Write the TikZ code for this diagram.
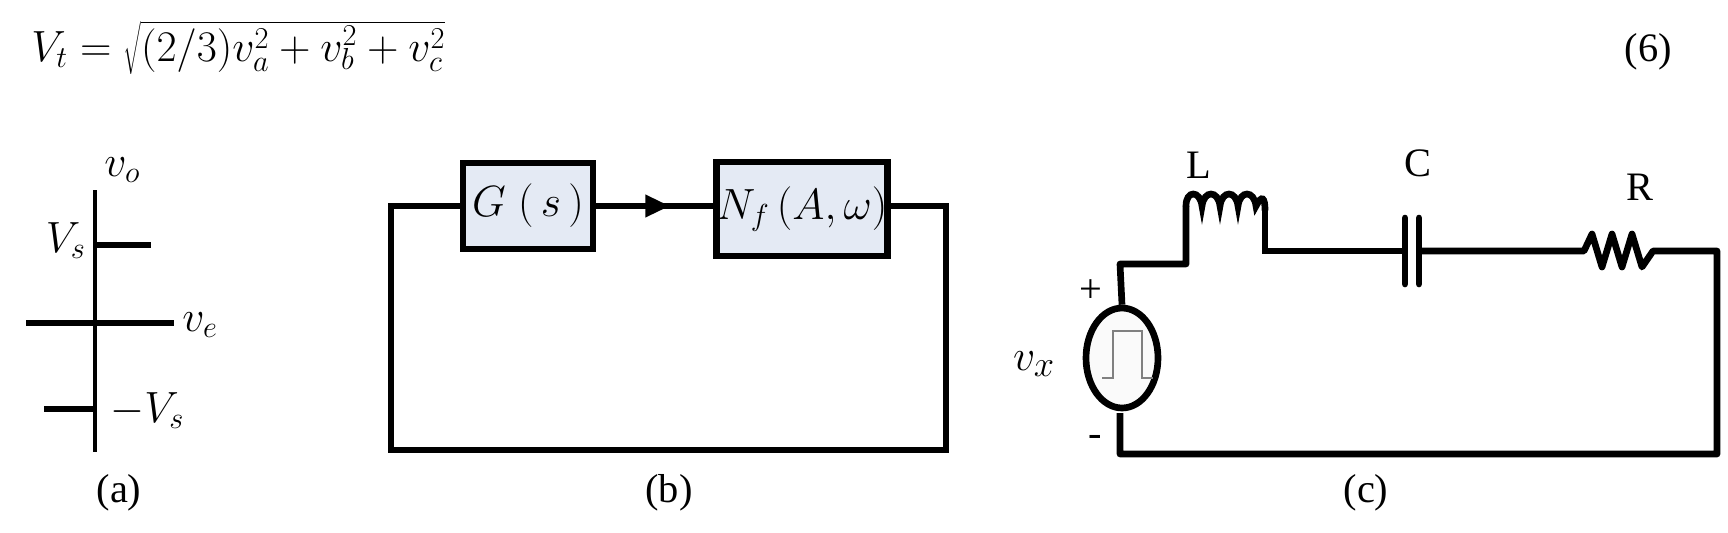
\documentclass[tikz,border=0pt]{standalone}
\usepackage{fontspec}
\setmainfont{Liberation Serif}
\usetikzlibrary{arrows.meta,shapes.geometric}
\definecolor{boxfill}{HTML}{E4EAF4}
\begin{document}
\begin{tikzpicture}[x=0.02cm,y=-0.02cm,
  w/.style={line width=3.8pt},
  thin/.style={line width=2.6pt},
  box/.style={draw,line width=3.8pt,fill=boxfill,inner sep=0pt},
  lab/.style={font=\fontsize{23}{27}\selectfont,inner sep=0pt},
  ]
\useasboundingbox (0,0) rectangle (1728,532);
% equation
\node[font=\fontsize{27}{32}\selectfont,inner sep=0pt,anchor=base west] (eq) at (31,61) {$V_t=\sqrt{(2/3)v_a^2+v_b^2+v_c^2}$};
\node[lab,anchor=base east] (eqn) at (1672,61) {(6)};
% (a)
\coordinate (a1) at (95,190); \coordinate (a2) at (95,452);
\draw[thin] (a1) -- (a2);
\coordinate (s1) at (95,245); \coordinate (s2) at (151,245);
\draw[w] (s1) -- (s2);
\coordinate (e1) at (26,323); \coordinate (e2) at (174,323);
\draw[w] (e1) -- (e2);
\coordinate (m1) at (44,409); \coordinate (m2) at (95,409);
\draw[w] (m1) -- (m2);
\node[lab,anchor=base west] (vo) at (104,176) {$v_o$};
\node[lab,anchor=base east] (vs) at (86,252) {$V_s$};
\node[lab,anchor=base west] (ve) at (182,331) {$v_e$};
\node[lab,anchor=base west] (mvs) at (110,422) {$-V_s$};
\node[lab,anchor=base] (la) at (119,502) {(a)};
% (b)
\node[box,minimum width=2.6cm,minimum height=1.72cm] (G) at (528,206) {\fontsize{23}{27}\selectfont $G\;(\,s\,)$};
\node[box,minimum width=3.24cm,minimum height=1.88cm] (N) at (802,209) {\fontsize{23}{27}\selectfont $N_f\,(A,\omega)$};
\coordinate (bl) at (391,206); \coordinate (br) at (946,206);
\coordinate (bbl) at (391,450); \coordinate (bbr) at (946,450);
\draw[w] (G.west|-bl) -- (bl) -- (bbl) -- (bbr) -- (br) -- (N.east|-br);
\draw[w] (G.east|-bl) -- (N.west|-bl);
\draw[w,-{Triangle[length=14pt,width=12pt]}] (G.east|-bl) -- (670,206);
\node[lab,anchor=base] (lb) at (669,502) {(b)};
% (c)
\node[draw,line width=3.8pt,ellipse,minimum width=1.44cm,minimum height=2.0cm,inner sep=0pt,fill=gray!4] (src) at (1122,358) {};
\draw[gray,line width=1pt] (1102,378) -- (1113,378) -- (1113,331) -- (1142,331) -- (1142,378) -- (1153,378);
\coordinate (c1) at (1120,264); \coordinate (c2) at (1186,264);
\coordinate (c3) at (1186,206); \coordinate (c4) at (1265,206);
\coordinate (c5) at (1265,251); \coordinate (cp1) at (1405,251);
\coordinate (cp2) at (1419,251); \coordinate (r1) at (1584,251);
\coordinate (r2) at (1653,251); \coordinate (c6) at (1717,251);
\coordinate (c7) at (1717,454); \coordinate (c8) at (1120,454);
\coordinate (c9) at (1120,413);
\draw[w,line join=round] (src.north) -- (c1) -- (c2) -- (c3);
\draw[w,line cap=round] (c3) .. controls (1186,190) and (1200,190) .. (1202,206)
  .. controls (1204,190) and (1218,190) .. (1220,206)
  .. controls (1222,190) and (1236,190) .. (1238,206)
  .. controls (1240,190) and (1254,190) .. (1256,206)
  .. controls (1262,194) and (1265,198) .. (1265,210);
\draw[w] (1265,208) -- (c5) -- (cp1);
\draw[w,line cap=round] (1405,218) -- (1405,284);
\draw[w,line cap=round] (1419,218) -- (1419,284);
\draw[w,line join=round] (cp2) -- (r1) -- (1592,234) -- (1602,267) -- (1612,234) -- (1622,267) -- (1632,234) -- (1642,267) -- (r2) -- (c6) -- (c7) -- (c8) -- (c9);
\node[lab,anchor=base] (pl) at (1091,302) {+};
\node[lab,anchor=base] (mi) at (1095,446) {-};
\node[font=\fontsize{30}{34}\selectfont,inner sep=0pt,anchor=base] (vx) at (1034,370) {$v_{x}$};
\node[lab,anchor=base] (L) at (1199,178) {L};
\node[lab,anchor=base] (C) at (1418,176) {C};
\node[lab,anchor=base] (R) at (1640,200) {R};
\node[lab,anchor=base] (lc) at (1366,502) {(c)};
\end{tikzpicture}
\end{document}
